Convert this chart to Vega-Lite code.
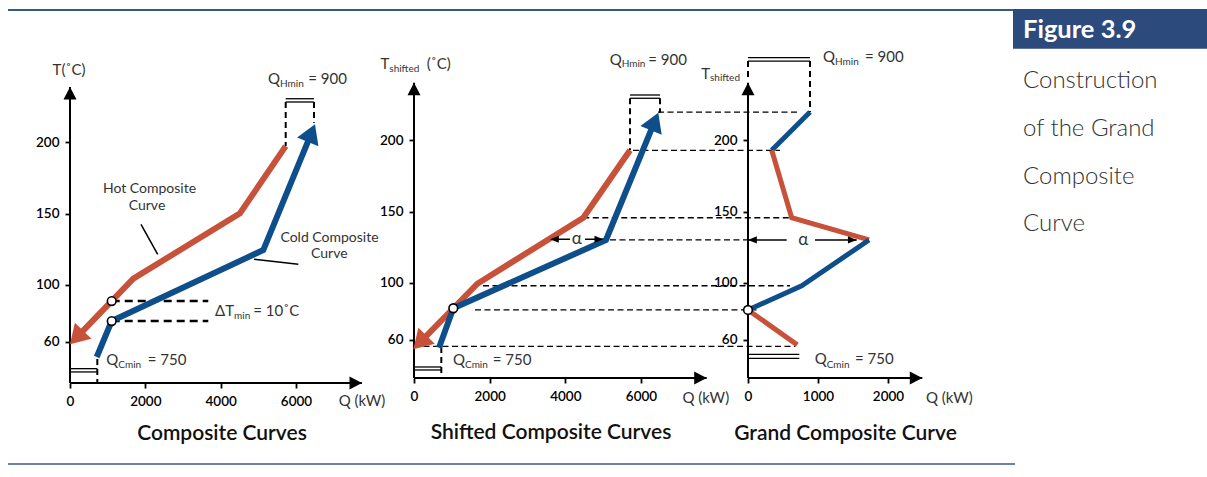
{
  "$schema": "https://vega.github.io/schema/vega-lite/v6.json",
  "padding": {"left": 7, "top": 8, "right": 0, "bottom": 5},
  "autosize": {"type": "pad"},
  "background": "white",
  "spacing": 40,
  "bounds": "flush",
  "config": {
    "view": {"stroke": null},
    "font": "Lato",
    "axis": {"domain": false, "grid": false, "tickColor": "#000", "tickWidth": 1.8, "tickSize": 5, "labelPadding": 6, "labelFont": "Lato", "labelFontSize": 13.5, "labelFontWeight": 600, "labelColor": "#000", "labelOverlap": false, "labelFlush": false, "format": "d"}
  },
  "datasets": {
    "c1": [
      {"Q": 184, "T": 63.3, "s": "hot", "i": 4, "end": true},
      {"Q": 1680, "T": 104.3, "s": "hot", "i": 3, "end": false},
      {"Q": 4513, "T": 150.2, "s": "hot", "i": 2, "end": false},
      {"Q": 5726, "T": 197.3, "s": "hot", "i": 1, "end": false},
      {"Q": 709, "T": 49.4, "s": "cold", "i": 1, "end": false},
      {"Q": 1107, "T": 74.6, "s": "cold", "i": 2, "end": false},
      {"Q": 5131, "T": 124.4, "s": "cold", "i": 3, "end": false},
      {"Q": 6403, "T": 206.1, "s": "cold", "i": 4, "end": true}
    ],
    "c2": [
      {"Q": 167, "T": 58.45, "s": "hot", "i": 4, "end": true},
      {"Q": 1673, "T": 99.4, "s": "hot", "i": 3, "end": false},
      {"Q": 4475, "T": 145.7, "s": "hot", "i": 2, "end": false},
      {"Q": 5710, "T": 193.0, "s": "hot", "i": 1, "end": false},
      {"Q": 661, "T": 54.5, "s": "cold", "i": 1, "end": false},
      {"Q": 1039, "T": 82.2, "s": "cold", "i": 2, "end": false},
      {"Q": 5075, "T": 130.1, "s": "cold", "i": 3, "end": false},
      {"Q": 6357, "T": 212.9, "s": "cold", "i": 4, "end": true}
    ],
    "c3": [
      {"Q": 886, "T": 219.8, "s": "cold", "g": 1, "i": 1},
      {"Q": 339, "T": 193.0, "s": "cold", "g": 1, "i": 2},
      {"Q": 339, "T": 193.0, "s": "hot", "g": 2, "i": 1},
      {"Q": 624, "T": 145.7, "s": "hot", "g": 2, "i": 2},
      {"Q": 1729, "T": 130.1, "s": "hot", "g": 2, "i": 3},
      {"Q": 1729, "T": 130.1, "s": "cold", "g": 3, "i": 1},
      {"Q": 767, "T": 98, "s": "cold", "g": 3, "i": 2},
      {"Q": 0, "T": 81, "s": "cold", "g": 3, "i": 3},
      {"Q": 0, "T": 81, "s": "hot", "g": 4, "i": 1},
      {"Q": 704, "T": 56.5, "s": "hot", "g": 4, "i": 2}
    ]
  },
  "hconcat": [
    {
      "width": 304,
      "height": 302,
      "encoding": {
        "x": {"field": "Q", "type": "quantitative", "scale": {"domain": [0, 8070.1], "nice": false, "zero": false}, "axis": {"values": [0, 2000, 4000, 6000], "title": null}},
        "y": {"field": "T", "type": "quantitative", "scale": {"domain": [31.15, 242.93], "nice": false, "zero": false}, "axis": {"values": [60, 100, 150, 200], "title": null}}
      },
      "layer": [
        {"data": {"values": [{"Q": 0, "T": 31.15, "Q2": 0, "T2": 238.7}, {"Q": 0, "T": 31.15, "Q2": 7751, "T2": 31.15}]},
         "mark": {"type": "rule", "color": "#000", "strokeWidth": 2}, "encoding": {"x2": {"field": "Q2"}, "y2": {"field": "T2"}}},
        {"data": {"values": [{"Q": 1885, "T": 142.4, "Q2": 2328, "T2": 121.4}, {"Q": 4884, "T": 117.9, "Q2": 6060, "T2": 114.4}]},
         "mark": {"type": "rule", "color": "#000", "strokeWidth": 1.5}, "encoding": {"x2": {"field": "Q2"}, "y2": {"field": "T2"}}},
        {"data": {"values": [{"Q": 0, "T": 41.2, "Q2": 725, "T2": 41.2}, {"Q": 0, "T": 38.9, "Q2": 725, "T2": 38.9}, {"Q": 5726, "T": 230.5, "Q2": 6477, "T2": 230.5}, {"Q": 5726, "T": 228.2, "Q2": 6477, "T2": 228.2}]},
         "mark": {"type": "rule", "color": "#000", "strokeWidth": 1.3}, "encoding": {"x2": {"field": "Q2"}, "y2": {"field": "T2"}}},
        {"data": {"values": [{"Q": 1107, "T": 88.6, "Q2": 3671, "T2": 88.6}, {"Q": 1107, "T": 74.6, "Q2": 3671, "T2": 74.6}]},
         "mark": {"type": "rule", "color": "#000", "strokeWidth": 2.5, "strokeDash": [8, 5]}, "encoding": {"x2": {"field": "Q2"}, "y2": {"field": "T2"}}},
        {"data": {"values": [{"Q": 725, "T": 48, "Q2": 725, "T2": 31.15}, {"Q": 5726, "T": 228.2, "Q2": 5726, "T2": 197.3}, {"Q": 6477, "T": 228.2, "Q2": 6477, "T2": 213.7}]},
         "mark": {"type": "rule", "color": "#000", "strokeWidth": 2, "strokeDash": [6, 4]}, "encoding": {"x2": {"field": "Q2"}, "y2": {"field": "T2"}}},
        {"data": {"name": "c1"},
         "mark": {"type": "line", "strokeWidth": 6, "strokeCap": "butt", "strokeJoin": "miter"},
         "encoding": {"color": {"field": "s", "type": "nominal", "scale": {"domain": ["hot", "cold"], "range": ["#c8513a", "#0e4f8b"]}, "legend": null}, "order": {"field": "i", "type": "quantitative"}}},
        {"data": {"name": "c1"}, "transform": [{"filter": "datum.end && datum.s == 'hot'"}],
         "mark": {"type": "point", "shape": "M0,-1L1.15,0.9L-1.15,0.9Z", "size": 400, "angle": 223.9, "filled": true, "color": "#c8513a", "opacity": 1, "strokeWidth": 0}},
        {"data": {"name": "c1"}, "transform": [{"filter": "datum.end && datum.s == 'cold'"}],
         "mark": {"type": "point", "shape": "M0,-1L1.15,0.9L-1.15,0.9Z", "size": 400, "angle": 22.3, "filled": true, "color": "#0e4f8b", "opacity": 1, "strokeWidth": 0}},
        {"data": {"values": [{"Q": 0, "T": 238.7}]},
         "mark": {"type": "point", "shape": "M0,0L1.3,2.5L-1.3,2.5Z", "size": 100, "filled": true, "color": "#000", "opacity": 1, "strokeWidth": 0}},
        {"data": {"values": [{"Q": 7751, "T": 31.15}]},
         "mark": {"type": "point", "shape": "M0,0L-2.5,-1.3L-2.5,1.3Z", "size": 100, "filled": true, "color": "#000", "opacity": 1, "strokeWidth": 0}},
        {"data": {"values": [{"Q": 1107, "T": 88.6}, {"Q": 1107, "T": 74.6}]},
         "mark": {"type": "point", "shape": "circle", "size": 75, "filled": true, "fill": "#fff", "stroke": "#000", "strokeWidth": 1.6, "opacity": 1}},
        {"data": {"values": [{"Q": -27, "T": 250.6, "t": "T(˚C)"}, {"Q": 7751, "T": 18.5, "t": "Q (kW)"}]},
         "mark": {"type": "text", "font": "Lato", "fontSize": 15, "color": "#333", "align": "center", "baseline": "middle"}, "encoding": {"text": {"field": "t"}}},
        {"data": {"values": [{"Q": 2110, "T": 167.2, "t": "Hot Composite"}, {"Q": 2044, "T": 155.6, "t": "Curve"}, {"Q": 6889, "T": 132.8, "t": "Cold Composite"}, {"Q": 6883, "T": 121.3, "t": "Curve"}]},
         "mark": {"type": "text", "font": "Lato", "fontSize": 14, "color": "#333", "align": "center", "baseline": "middle"}, "encoding": {"text": {"field": "t"}}},
        {"data": {"values": [{"Q": 4035, "T": -4.6, "t": "Composite Curves"}]},
         "mark": {"type": "text", "font": "Lato", "fontSize": 21, "fontWeight": 600, "color": "#111", "align": "center", "baseline": "middle"}, "encoding": {"text": {"field": "t"}}},
        {"data": {"values": [{"Q": 5575, "T": 240.6, "t": "Q"}, {"Q": 1282, "T": 43.6, "t": "Q"}, {"Q": 4354, "T": 78.1, "t": "ΔT"}]},
         "mark": {"type": "text", "font": "Lato", "fontSize": 15, "color": "#333", "align": "right", "baseline": "alphabetic"}, "encoding": {"text": {"field": "t"}}},
        {"data": {"values": [{"Q": 6326, "T": 240.6, "t": "= 900"}, {"Q": 2063, "T": 43.6, "t": "= 750"}, {"Q": 4866, "T": 78.1, "t": "= 10˚C"}]},
         "mark": {"type": "text", "font": "Lato", "fontSize": 15, "color": "#333", "align": "left", "baseline": "alphabetic"}, "encoding": {"text": {"field": "t"}}},
        {"data": {"values": [{"Q": 5575, "T": 238.5, "t": "Hmin"}, {"Q": 1282, "T": 41.7, "t": "Cmin"}, {"Q": 4354, "T": 75.7, "t": "min"}]},
         "mark": {"type": "text", "font": "Lato", "fontSize": 10, "color": "#333", "align": "left", "baseline": "alphabetic"}, "encoding": {"text": {"field": "t"}}}
      ]
    },
    {
      "width": 294,
      "height": 297,
      "encoding": {
        "x": {"field": "Q", "type": "quantitative", "scale": {"domain": [0, 7771.6], "nice": false, "zero": false}, "axis": {"values": [0, 2000, 4000, 6000], "title": null}},
        "y": {"field": "T", "type": "quantitative", "scale": {"domain": [33.27, 241.62], "nice": false, "zero": false}, "axis": {"values": [60, 100, 150, 200], "title": null}}
      },
      "layer": [
        {"data": {"values": [{"Q": 6450, "T": 219.8, "Q2": 10151, "T2": 219.8}, {"Q": 5789, "T": 193.0, "Q2": 9675, "T2": 193.0}, {"Q": 4475, "T": 145.7, "Q2": 9939, "T2": 145.7}, {"Q": 5181, "T": 130.1, "Q2": 8829, "T2": 130.1}, {"Q": 1824, "T": 98, "Q2": 9939, "T2": 98}, {"Q": 1612, "T": 81, "Q2": 9146, "T2": 81}, {"Q": 0, "T": 55.5, "Q2": 10071, "T2": 55.5}]},
         "mark": {"type": "rule", "color": "#000", "strokeWidth": 1.3, "strokeDash": [6, 3.5]}, "encoding": {"x2": {"field": "Q2"}, "y2": {"field": "T2"}}},
        {"data": {"values": [{"Q": 0, "T": 33.27, "Q2": 0, "T2": 240.4}, {"Q": 0, "T": 33.27, "Q2": 7737, "T2": 33.27}]},
         "mark": {"type": "rule", "color": "#000", "strokeWidth": 2}, "encoding": {"x2": {"field": "Q2"}, "y2": {"field": "T2"}}},
        {"data": {"values": [{"Q": 0, "T": 41.0, "Q2": 722, "T2": 41.0}, {"Q": 0, "T": 38.9, "Q2": 722, "T2": 38.9}, {"Q": 5710, "T": 231.8, "Q2": 6503, "T2": 231.8}, {"Q": 5710, "T": 229.5, "Q2": 6503, "T2": 229.5}]},
         "mark": {"type": "rule", "color": "#000", "strokeWidth": 1.3}, "encoding": {"x2": {"field": "Q2"}, "y2": {"field": "T2"}}},
        {"data": {"values": [{"Q": 3595, "T": 130.6, "Q2": 4124, "T2": 130.6}, {"Q": 4520, "T": 130.6, "Q2": 5004, "T2": 130.6}]},
         "mark": {"type": "rule", "color": "#000", "strokeWidth": 1.5}, "encoding": {"x2": {"field": "Q2"}, "y2": {"field": "T2"}}},
        {"data": {"values": [{"Q": 722, "T": 55, "Q2": 722, "T2": 33.27}, {"Q": 5710, "T": 229.5, "Q2": 5710, "T2": 193.0}, {"Q": 6503, "T": 229.5, "Q2": 6503, "T2": 219.4}]},
         "mark": {"type": "rule", "color": "#000", "strokeWidth": 2, "strokeDash": [6, 4]}, "encoding": {"x2": {"field": "Q2"}, "y2": {"field": "T2"}}},
        {"data": {"name": "c2"},
         "mark": {"type": "line", "strokeWidth": 6, "strokeCap": "butt", "strokeJoin": "miter"},
         "encoding": {"color": {"field": "s", "type": "nominal", "scale": {"domain": ["hot", "cold"], "range": ["#c8513a", "#0e4f8b"]}, "legend": null}, "order": {"field": "i", "type": "quantitative"}}},
        {"data": {"name": "c2"}, "transform": [{"filter": "datum.end && datum.s == 'hot'"}],
         "mark": {"type": "point", "shape": "M0,-1L1.15,0.9L-1.15,0.9Z", "size": 400, "angle": 224.3, "filled": true, "color": "#c8513a", "opacity": 1, "strokeWidth": 0}},
        {"data": {"name": "c2"}, "transform": [{"filter": "datum.end && datum.s == 'cold'"}],
         "mark": {"type": "point", "shape": "M0,-1L1.15,0.9L-1.15,0.9Z", "size": 400, "angle": 22.3, "filled": true, "color": "#0e4f8b", "opacity": 1, "strokeWidth": 0}},
        {"data": {"values": [{"Q": 0, "T": 240.4}]},
         "mark": {"type": "point", "shape": "M0,0L1.3,2.5L-1.3,2.5Z", "size": 100, "filled": true, "color": "#000", "opacity": 1, "strokeWidth": 0}},
        {"data": {"values": [{"Q": 7737, "T": 33.27}]},
         "mark": {"type": "point", "shape": "M0,0L-2.5,-1.3L-2.5,1.3Z", "size": 100, "filled": true, "color": "#000", "opacity": 1, "strokeWidth": 0}},
        {"data": {"values": [{"Q": 3595, "T": 130.6}]},
         "mark": {"type": "point", "shape": "M0,0L2.2,-0.9L2.2,0.9Z", "size": 64, "filled": true, "color": "#000", "opacity": 1, "strokeWidth": 0}},
        {"data": {"values": [{"Q": 5004, "T": 130.6}]},
         "mark": {"type": "point", "shape": "M0,0L-2.2,-0.9L-2.2,0.9Z", "size": 64, "filled": true, "color": "#000", "opacity": 1, "strokeWidth": 0}},
        {"data": {"values": [{"Q": 1039, "T": 82.2}]},
         "mark": {"type": "point", "shape": "circle", "size": 75, "filled": true, "fill": "#fff", "stroke": "#000", "strokeWidth": 1.6, "opacity": 1}},
        {"data": {"values": [{"Q": 7713, "T": 19.2, "t": "Q (kW)"}]},
         "mark": {"type": "text", "font": "Lato", "fontSize": 15, "color": "#333", "align": "center", "baseline": "middle"}, "encoding": {"text": {"field": "t"}}},
        {"data": {"values": [{"Q": 4301, "T": 130.6, "t": "α"}]},
         "mark": {"type": "text", "font": "Lato", "fontSize": 17, "color": "#333", "align": "center", "baseline": "middle"}, "encoding": {"text": {"field": "t"}}},
        {"data": {"values": [{"Q": 3621, "T": -5.1, "t": "Shifted Composite Curves"}]},
         "mark": {"type": "text", "font": "Lato", "fontSize": 21, "fontWeight": 600, "color": "#111", "align": "center", "baseline": "middle"}, "encoding": {"text": {"field": "t"}}},
        {"data": {"values": [{"Q": -653, "T": 249.8, "t": "T"}, {"Q": 5490, "T": 252.8, "t": "Q"}, {"Q": 1348, "T": 42.2, "t": "Q"}]},
         "mark": {"type": "text", "font": "Lato", "fontSize": 15, "color": "#333", "align": "right", "baseline": "alphabetic"}, "encoding": {"text": {"field": "t"}}},
        {"data": {"values": [{"Q": 336, "T": 249.8, "t": "(˚C)"}, {"Q": 6193, "T": 252.8, "t": "= 900"}, {"Q": 2080, "T": 42.2, "t": "= 750"}]},
         "mark": {"type": "text", "font": "Lato", "fontSize": 15, "color": "#333", "align": "left", "baseline": "alphabetic"}, "encoding": {"text": {"field": "t"}}},
        {"data": {"values": [{"Q": -653, "T": 247.9, "t": "shifted"}, {"Q": 5490, "T": 251.1, "t": "Hmin"}, {"Q": 1348, "T": 40.3, "t": "Cmin"}]},
         "mark": {"type": "text", "font": "Lato", "fontSize": 10, "color": "#333", "align": "left", "baseline": "alphabetic"}, "encoding": {"text": {"field": "t"}}}
      ]
    },
    {
      "width": 225,
      "height": 297,
      "encoding": {
        "x": {"field": "Q", "type": "quantitative", "scale": {"domain": [0, 3214.3], "nice": false, "zero": false}, "axis": {"values": [0, 1000, 2000], "title": null}},
        "y": {"field": "T", "type": "quantitative", "scale": {"domain": [33.27, 241.62], "nice": false, "zero": false}, "axis": {"values": [60, 100, 150, 200], "title": null}}
      },
      "layer": [
        {"data": {"values": [{"Q": 0, "T": 33.27, "Q2": 0, "T2": 240.4}, {"Q": 0, "T": 33.27, "Q2": 2490, "T2": 33.27}]},
         "mark": {"type": "rule", "color": "#000", "strokeWidth": 2}, "encoding": {"x2": {"field": "Q2"}, "y2": {"field": "T2"}}},
        {"data": {"values": [{"Q": 0, "T": 258.0, "Q2": 886, "T2": 258.0}, {"Q": 0, "T": 255.6, "Q2": 886, "T2": 255.6}, {"Q": 0, "T": 49.9, "Q2": 733, "T2": 49.9}, {"Q": 0, "T": 47.1, "Q2": 733, "T2": 47.1}]},
         "mark": {"type": "rule", "color": "#000", "strokeWidth": 1.3}, "encoding": {"x2": {"field": "Q2"}, "y2": {"field": "T2"}}},
        {"data": {"values": [{"Q": 0, "T": 130.1, "Q2": 553, "T2": 130.1}, {"Q": 957, "T": 130.1, "Q2": 1553, "T2": 130.1}]},
         "mark": {"type": "rule", "color": "#000", "strokeWidth": 1.5}, "encoding": {"x2": {"field": "Q2"}, "y2": {"field": "T2"}}},
        {"data": {"values": [{"Q": 886, "T": 255.6, "Q2": 886, "T2": 219.8}, {"Q": 0, "T": 255.6, "Q2": 0, "T2": 241.6}]},
         "mark": {"type": "rule", "color": "#000", "strokeWidth": 2, "strokeDash": [6, 4]}, "encoding": {"x2": {"field": "Q2"}, "y2": {"field": "T2"}}},
        {"data": {"name": "c3"},
         "mark": {"type": "line", "strokeWidth": 5, "strokeCap": "butt", "strokeJoin": "miter"},
         "encoding": {"color": {"field": "s", "type": "nominal", "scale": {"domain": ["hot", "cold"], "range": ["#c8513a", "#0e4f8b"]}, "legend": null}, "detail": {"field": "g", "type": "nominal"}, "order": {"field": "i", "type": "quantitative"}}},
        {"data": {"values": [{"Q": 0, "T": 240.4}]},
         "mark": {"type": "point", "shape": "M0,0L1.3,2.5L-1.3,2.5Z", "size": 100, "filled": true, "color": "#000", "opacity": 1, "strokeWidth": 0}},
        {"data": {"values": [{"Q": 2490, "T": 33.27}]},
         "mark": {"type": "point", "shape": "M0,0L-2.5,-1.3L-2.5,1.3Z", "size": 100, "filled": true, "color": "#000", "opacity": 1, "strokeWidth": 0}},
        {"data": {"values": [{"Q": 0, "T": 130.1}]},
         "mark": {"type": "point", "shape": "M0,0L2.2,-0.9L2.2,0.9Z", "size": 64, "filled": true, "color": "#000", "opacity": 1, "strokeWidth": 0}},
        {"data": {"values": [{"Q": 1553, "T": 130.1}]},
         "mark": {"type": "point", "shape": "M0,0L-2.2,-0.9L-2.2,0.9Z", "size": 64, "filled": true, "color": "#000", "opacity": 1, "strokeWidth": 0}},
        {"data": {"values": [{"Q": 0, "T": 81}]},
         "mark": {"type": "point", "shape": "circle", "size": 75, "filled": true, "fill": "#fff", "stroke": "#000", "strokeWidth": 1.6, "opacity": 1}},
        {"data": {"values": [{"Q": 2876, "T": 19.5, "t": "Q (kW)"}]},
         "mark": {"type": "text", "font": "Lato", "fontSize": 15, "color": "#333", "align": "center", "baseline": "middle"}, "encoding": {"text": {"field": "t"}}},
        {"data": {"values": [{"Q": 790, "T": 130.1, "t": "α"}]},
         "mark": {"type": "text", "font": "Lato", "fontSize": 17, "color": "#333", "align": "center", "baseline": "middle"}, "encoding": {"text": {"field": "t"}}},
        {"data": {"values": [{"Q": 1393, "T": -5.8, "t": "Grand Composite Curve"}]},
         "mark": {"type": "text", "font": "Lato", "fontSize": 21, "fontWeight": 600, "color": "#111", "align": "center", "baseline": "middle"}, "encoding": {"text": {"field": "t"}}},
        {"data": {"values": [{"Q": -543, "T": 242.8, "t": "T"}, {"Q": 1243, "T": 255.2, "t": "Q"}, {"Q": 1124, "T": 42.9, "t": "Q"}]},
         "mark": {"type": "text", "font": "Lato", "fontSize": 15, "color": "#333", "align": "right", "baseline": "alphabetic"}, "encoding": {"text": {"field": "t"}}},
        {"data": {"values": [{"Q": 1671, "T": 255.2, "t": "= 900"}, {"Q": 1529, "T": 42.9, "t": "= 750"}]},
         "mark": {"type": "text", "font": "Lato", "fontSize": 15, "color": "#333", "align": "left", "baseline": "alphabetic"}, "encoding": {"text": {"field": "t"}}},
        {"data": {"values": [{"Q": -543, "T": 241.3, "t": "shifted"}, {"Q": 1243, "T": 252.5, "t": "Hmin"}, {"Q": 1124, "T": 40.6, "t": "Cmin"}]},
         "mark": {"type": "text", "font": "Lato", "fontSize": 10, "color": "#333", "align": "left", "baseline": "alphabetic"}, "encoding": {"text": {"field": "t"}}}
      ]
    },
    {
      "width": 194,
      "height": 302,
      "encoding": {
        "x": {"field": "x", "type": "quantitative", "scale": {"domain": [0, 1], "nice": false, "zero": false}, "axis": null},
        "y": {"field": "y", "type": "quantitative", "scale": {"domain": [0, 1], "nice": false, "zero": false}, "axis": null}
      },
      "layer": [
        {"data": {"values": [{"x": 0, "y": 1.2384, "x2": 1, "y2": 1.107}]},
         "mark": {"type": "rect", "color": "#2d4a7c"}, "encoding": {"x2": {"field": "x2"}, "y2": {"field": "y2"}}},
        {"data": {"values": [{"x": -5.1804, "y": 1.2351, "x2": 0, "y2": 1.2351}]},
         "mark": {"type": "rule", "color": "#3b5788", "strokeWidth": 2}, "encoding": {"x2": {"field": "x2"}, "y2": {"field": "y2"}}},
        {"data": {"values": [{"x": -5.1804, "y": -0.2682, "x2": 0.0103, "y2": -0.2682}]},
         "mark": {"type": "rule", "color": "#3b5788", "strokeWidth": 1.5}, "encoding": {"x2": {"field": "x2"}, "y2": {"field": "y2"}}},
        {"data": {"values": [{"x": 0.0515, "y": 1.1434, "t": "Figure 3.9"}]},
         "mark": {"type": "text", "font": "Lato", "fontWeight": "bold", "fontSize": 25.5, "color": "#fff", "align": "left", "baseline": "alphabetic"}, "encoding": {"text": {"field": "t"}}},
        {"data": {"values": [{"x": 0.0515, "y": 0.9758, "t": "Construction"}, {"x": 0.0515, "y": 0.8179, "t": "of the Grand"}, {"x": 0.0515, "y": 0.6599, "t": "Composite"}, {"x": 0.0515, "y": 0.5033, "t": "Curve"}]},
         "mark": {"type": "text", "font": "Lato", "fontWeight": 300, "fontSize": 24, "color": "#333", "align": "left", "baseline": "alphabetic"}, "encoding": {"text": {"field": "t"}}}
      ]
    }
  ]
}
